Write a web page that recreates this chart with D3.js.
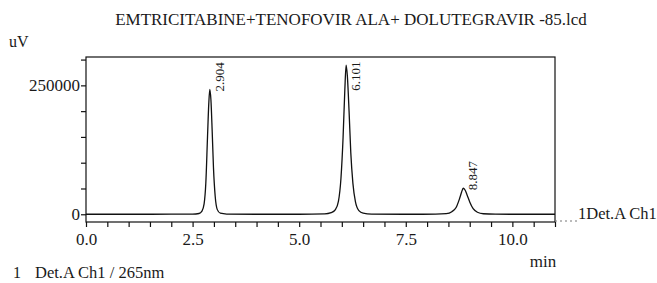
<!DOCTYPE html>
<html>
<head>
<meta charset="utf-8">
<script src="https://cdn.jsdelivr.net/npm/d3@7"></script>
<style>
  body { margin: 0; background: #fff; }
  svg text { font-family: "Liberation Serif", "Times New Roman", serif; fill: #1a1a1a; }
</style>
</head>
<body>
<svg id="chart" width="657" height="283"></svg>
<script>
// chart values
const title = "EMTRICITABINE+TENOFOVIR ALA+ DOLUTEGRAVIR -85.lcd"
const xTicks = [0, 2.5, 5, 7.5, 10]
const xMinor = d3.range(0, 11.01, 0.5)
const yTicks = [0, 250000]
const yMinor = [0, 50000, 100000, 150000, 200000, 250000, 300000]
const peakTimes = [2.904, 6.101, 8.847]
const peakHeights = [242000, 289000, 50500]
const peakLabels = ["2.904", "6.101", "8.847"]

// detector trace (time in min, signal in uV)
const traceTime = [0, 1.0, 2.0, 2.5, 2.65, 2.72, 2.77, 2.81, 2.85, 2.88, 2.904, 2.93, 2.96, 2.99, 3.03, 3.08, 3.15, 3.3,
  4.0, 5.0, 5.6, 5.75, 5.85, 5.92, 5.98, 6.03, 6.07, 6.101, 6.13, 6.17, 6.21, 6.26, 6.32, 6.4, 6.5, 6.7,
  7.5, 8.2, 8.45, 8.58, 8.68, 8.76, 8.81, 8.847, 8.89, 8.94, 9.0, 9.08, 9.18, 9.32, 9.6, 10.3, 11.0]
const traceSignal = [0, 0, 200, 400, 1500, 6000, 20000, 60000, 150000, 215000, 242000, 222000, 160000, 90000, 35000, 9000, 2000, 400,
  0, 0, 600, 3000, 9000, 25000, 70000, 150000, 240000, 289000, 268000, 200000, 120000, 60000, 24000, 7000, 2000, 300,
  0, 200, 1200, 5000, 13000, 30000, 43000, 50500, 47000, 37000, 24000, 11000, 4000, 1000, 200, 0, 0]

const svg = d3.select("#chart")

const x = d3.scaleLinear().domain([0, 11]).range([86, 555])
const y = d3.scaleLinear().domain([-15000, 305000]).range([222, 57])

// title and unit
svg.append("text")
  .attr("x", 351).attr("y", 25)
  .attr("text-anchor", "middle")
  .style("font-size", "17px")
  .text(title)

svg.append("text")
  .attr("x", 9).attr("y", 47)
  .style("font-size", "16px")
  .text("uV")

// frame
svg.append("rect")
  .attr("x", x(0)).attr("y", y(305000))
  .attr("width", x(11) - x(0)).attr("height", y(-15000) - y(305000))
  .attr("fill", "none").attr("stroke", "#111").attr("stroke-width", 1.2)

// y axis
const yAxis = d3.axisLeft(y)
  .tickValues(yMinor)
  .tickSize(5)
  .tickFormat(d => yTicks.includes(d) ? String(d) : "")
const gy = svg.append("g").attr("transform", "translate(" + x(0) + ",0)").call(yAxis)
gy.select(".domain").remove()
gy.selectAll("line").attr("stroke", "#111").attr("stroke-width", 1.2)
gy.selectAll("text").style("font-size", "17px").attr("x", -6).attr("fill", "#1a1a1a")

// x axis
const xAxis = d3.axisBottom(x)
  .tickValues(xMinor)
  .tickSize(5)
  .tickFormat(d => xTicks.includes(d) ? d.toFixed(1) : "")
const gx = svg.append("g").attr("transform", "translate(0," + y(-15000) + ")").call(xAxis)
gx.select(".domain").remove()
gx.selectAll("line").attr("stroke", "#111").attr("stroke-width", 1.2)
gx.selectAll("text").style("font-size", "17px").attr("y", 11).attr("fill", "#1a1a1a")

svg.append("text")
  .attr("x", 543).attr("y", 267)
  .attr("text-anchor", "middle")
  .style("font-size", "17px")
  .text("min")

// trace
const line = d3.line()
  .x((d, i) => x(traceTime[i]))
  .y(d => y(d))
  .curve(d3.curveMonotoneX)

svg.append("path")
  .datum(traceSignal)
  .attr("d", line)
  .attr("fill", "none")
  .attr("stroke", "#111")
  .attr("stroke-width", 1.3)

// peak labels, rotated, kept inside the frame
peakTimes.forEach((t, i) => {
  const px = x(t) + 14
  let py = y(peakHeights[i]) + 2
  const lbl = svg.append("text")
    .attr("transform", "translate(" + px + "," + py + ") rotate(-90)")
    .style("font-size", "13px")
    .text(peakLabels[i])
  const len = lbl.node().getComputedTextLength()
  if (py - len < y(300000) + 2) {
    py = y(300000) + 2 + len
    lbl.attr("transform", "translate(" + px + "," + py + ") rotate(-90)")
  }
})

// channel marker on the right
svg.append("line")
  .attr("x1", x(11)).attr("x2", x(11) + 22)
  .attr("y1", y(-15000) - 1).attr("y2", y(-15000) - 1)
  .attr("stroke", "#777").attr("stroke-dasharray", "2,3")

svg.append("text")
  .attr("x", 578).attr("y", 219)
  .style("font-size", "16.5px")
  .text("1Det.A Ch1")

// footer
svg.append("text")
  .attr("x", 13).attr("y", 278)
  .style("font-size", "16px")
  .text("1")
svg.append("text")
  .attr("x", 35).attr("y", 278)
  .style("font-size", "16.5px")
  .text("Det.A Ch1 / 265nm")
</script>
</body>
</html>
